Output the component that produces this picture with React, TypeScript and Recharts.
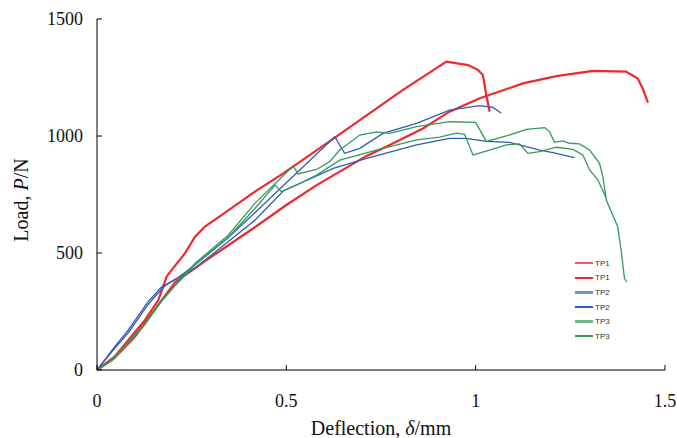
import React from 'react';
import { LineChart, Line, XAxis, YAxis, Label } from 'recharts';

// Load–deflection curves: [deflection mm, load N]
const tp1a: [number, number][] = [
  [0, 0], [0.045, 55], [0.083, 128], [0.127, 214], [0.162, 299], [0.184, 399],
  [0.197, 427], [0.232, 498], [0.259, 570], [0.285, 613], [0.329, 662],
  [0.417, 762], [0.492, 840], [0.632, 997], [0.808, 1197], [0.923, 1318],
  [0.98, 1303], [1.006, 1282], [1.019, 1261], [1.028, 1175], [1.037, 1104],
];
const tp1b: [number, number][] = [
  [0, 0], [0.045, 50], [0.1, 142], [0.171, 299], [0.206, 375], [0.285, 465],
  [0.346, 532], [0.417, 610], [0.5, 705], [0.58, 790], [0.712, 915],
  [0.773, 962], [0.861, 1032], [0.931, 1104], [1.011, 1161], [1.125, 1225],
  [1.213, 1256], [1.31, 1278], [1.397, 1275], [1.428, 1246], [1.441, 1203],
  [1.455, 1143],
];
const tp2a: [number, number][] = [
  [0, 0], [0.047, 100], [0.083, 171], [0.135, 292], [0.171, 356], [0.206, 385],
  [0.259, 450], [0.346, 565], [0.417, 672], [0.5, 800], [0.628, 997],
  [0.654, 926], [0.694, 947], [0.755, 1011], [0.844, 1054], [0.931, 1111],
  [1.011, 1130], [1.046, 1122], [1.068, 1097],
];
const tp2b: [number, number][] = [
  [0, 0], [0.04, 80], [0.083, 160], [0.135, 280], [0.162, 330], [0.18, 360],
  [0.2, 382], [0.259, 435], [0.346, 548], [0.417, 640], [0.492, 765],
  [0.624, 862], [0.712, 904], [0.844, 962], [0.931, 990], [0.975, 990],
  [1.028, 977], [1.09, 973], [1.134, 955], [1.169, 940], [1.204, 929],
  [1.261, 908],
];
const tp3a: [number, number][] = [
  [0, 0], [0.039, 43], [0.127, 200], [0.171, 299], [0.206, 363], [0.259, 456],
  [0.346, 575], [0.417, 712], [0.518, 872], [0.531, 838], [0.58, 857],
  [0.615, 891], [0.641, 940], [0.694, 1004], [0.738, 1018], [0.773, 1011],
  [0.844, 1040], [0.931, 1061], [1.0, 1058], [1.028, 977], [1.081, 1000],
  [1.134, 1028], [1.182, 1036], [1.195, 1019], [1.208, 973], [1.23, 979],
  [1.248, 969], [1.274, 966], [1.301, 940], [1.327, 883], [1.336, 826],
  [1.345, 726], [1.375, 612], [1.384, 513], [1.393, 392], [1.399, 377],
];
const tp3b: [number, number][] = [
  [0, 0], [0.039, 40], [0.127, 195], [0.171, 295], [0.206, 360], [0.259, 450],
  [0.346, 565], [0.417, 690], [0.47, 790], [0.487, 762], [0.536, 798],
  [0.58, 833], [0.641, 897], [0.755, 947], [0.844, 983], [0.905, 995],
  [0.949, 1012], [0.971, 1007], [0.993, 919], [1.037, 940], [1.081, 962],
  [1.116, 966], [1.138, 926], [1.169, 933], [1.213, 952], [1.257, 943],
  [1.283, 919], [1.301, 855], [1.323, 812], [1.345, 733],
];

const xTicks = [0, 0.5, 1, 1.5];
const yTicks = [0, 500, 1000, 1500];

const RED = '#f0282c';
const BLUE = '#2f5cb5';
const GREEN = '#35995f';

const series = [
  { name: 'TP1', pts: tp1a, color: RED, legendColor: '#f25a5c', width: 2.2 },
  { name: 'TP1', pts: tp1b, color: RED, legendColor: RED, width: 2.2 },
  { name: 'TP2', pts: tp2a, color: BLUE, legendColor: '#7192cf', width: 1.3 },
  { name: 'TP2', pts: tp2b, color: BLUE, legendColor: BLUE, width: 1.3 },
  { name: 'TP3', pts: tp3a, color: GREEN, legendColor: '#6cb98c', width: 1.3 },
  { name: 'TP3', pts: tp3b, color: GREEN, legendColor: GREEN, width: 1.3 },
];

const serif = '"Liberation Serif", "Times New Roman", serif';

// small legend box in the lower right of the plot
const SmallLegend = () => (
  <div
    style={{
      position: 'absolute', left: 575, top: 256,
      fontFamily: '"Liberation Sans", Arial, sans-serif', fontSize: 8, color: '#333',
    }}
  >
    {series.map((s, i) => (
      <div key={i} style={{ display: 'flex', alignItems: 'center', height: 14.6 }}>
        <span style={{ display: 'inline-block', width: 18, height: 2.4, background: s.legendColor, marginRight: 2 }} />
        <span>{s.name}</span>
      </div>
    ))}
  </div>
);

export default function App() {
  return (
    <div style={{ position: 'absolute', left: 0, top: 0, width: 677, height: 438, background: '#fff' }}>
      <LineChart width={677} height={438} margin={{ top: 19, right: 12, bottom: 0, left: 0 }}>
        <XAxis
          type="number"
          dataKey="x"
          domain={[0, 1.5]}
          ticks={xTicks}
          allowDataOverflow
          height={68}
          stroke="#000"
          tickSize={-5}
          tickMargin={29}
          tick={{ fill: '#111', fontSize: 18, fontFamily: serif }}
        >
          <Label
            content={() => (
              <text x={381} y={435} textAnchor="middle" fontFamily={serif} fontSize={20} fill="#111">
                Deflection, <tspan fontStyle="italic">δ</tspan>/mm
              </text>
            )}
          />
        </XAxis>
        <XAxis xAxisId="top" orientation="top" type="number" domain={[0, 1.5]} height={0} tick={false} tickLine={false} stroke="#000" />
        <YAxis
          type="number"
          domain={[0, 1500]}
          ticks={yTicks}
          allowDataOverflow
          width={97}
          stroke="#000"
          tickSize={-5}
          tickMargin={19}
          tick={{ fill: '#111', fontSize: 18, fontFamily: serif }}
        >
          <Label
            content={() => (
              <text x={28} y={200} transform="rotate(-90 28 200)" textAnchor="middle" fontFamily={serif} fontSize={20} fill="#111">
                Load, <tspan fontStyle="italic">P</tspan>/N
              </text>
            )}
          />
        </YAxis>
        <YAxis yAxisId="right" orientation="right" domain={[0, 1500]} width={0} tick={false} tickLine={false} stroke="#000" />
        {series.map((s, i) => (
          <Line
            key={i}
            data={s.pts.map(([x, y]) => ({ x, y }))}
            dataKey="y"
            name={s.name}
            type="linear"
            stroke={s.color}
            strokeWidth={s.width}
            dot={false}
            activeDot={false}
            isAnimationActive={false}
          />
        ))}
      </LineChart>
      <SmallLegend />
    </div>
  );
}
